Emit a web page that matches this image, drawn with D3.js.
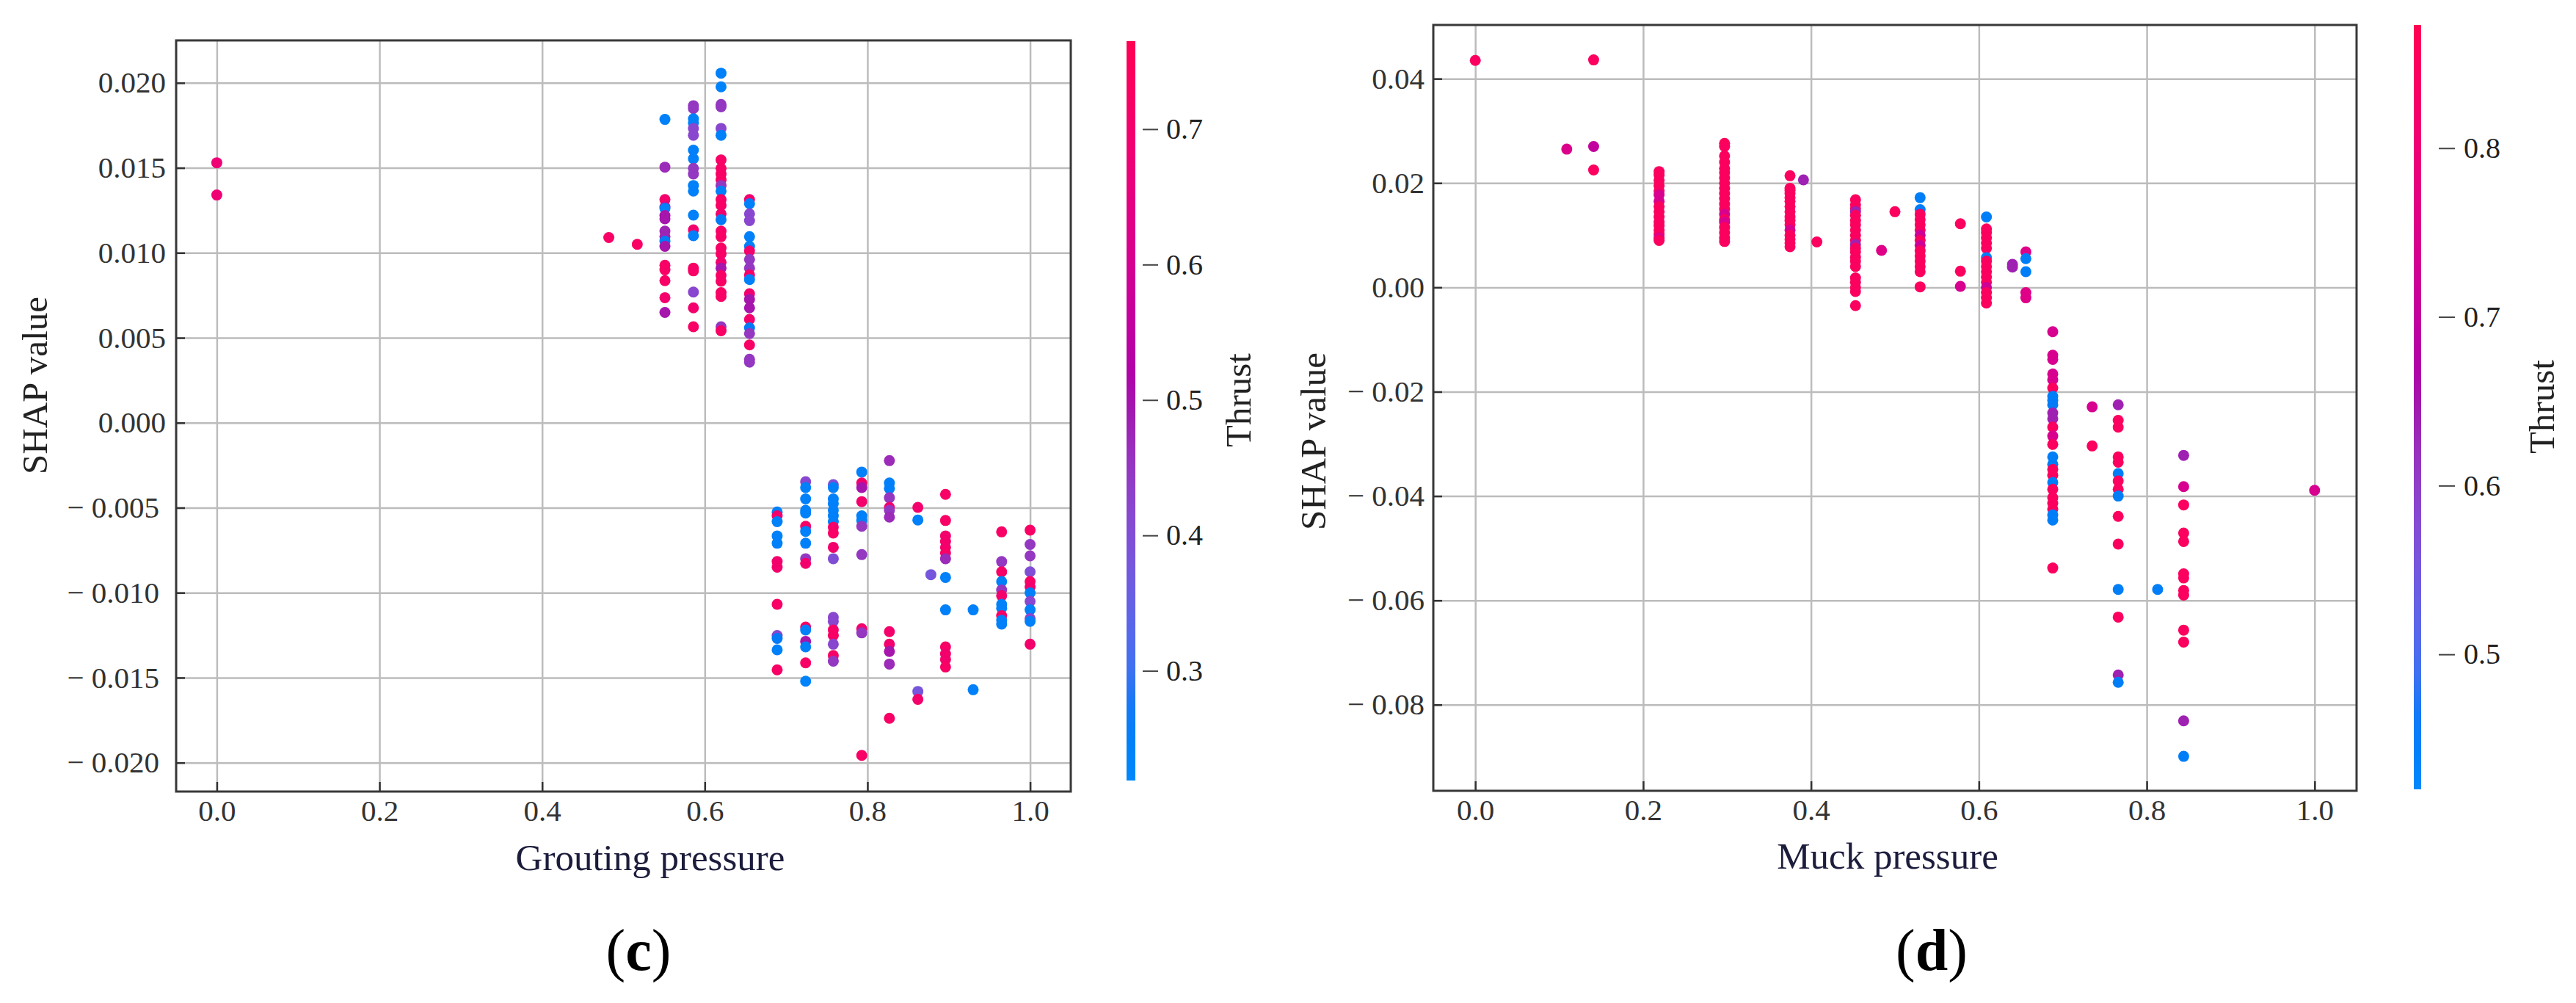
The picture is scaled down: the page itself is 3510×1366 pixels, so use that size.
<!DOCTYPE html>
<html>
<head>
<meta charset="utf-8">
<script src="https://cdn.jsdelivr.net/npm/d3@7"></script>
<style>
  body { margin: 0; background: #fff; }
  text { font-family: "Liberation Serif", "Times New Roman", serif; }
</style>
</head>
<body>
<div class="svg-container"></div>
<script>
var width = 3510;
var height = 1366;

// ---- data: [feature value, SHAP value, thrust] ----
var groutingPoints = [
  [0.000, 0.0153, 0.68], [0.000, 0.0134, 0.68],
  [0.482, 0.0109, 0.72], [0.517, 0.0105, 0.72],
  [0.551, 0.01785, 0.25], [0.551, 0.01504, 0.47], [0.551, 0.01313, 0.70], [0.551, 0.01270, 0.62],
  [0.551, 0.01262, 0.25], [0.551, 0.01219, 0.50], [0.551, 0.01200, 0.50], [0.551, 0.01128, 0.48],
  [0.551, 0.01095, 0.48], [0.551, 0.01068, 0.27], [0.551, 0.01038, 0.50], [0.551, 0.00927, 0.72],
  [0.551, 0.00900, 0.72], [0.551, 0.00836, 0.72], [0.551, 0.00736, 0.70], [0.551, 0.00649, 0.50],
  [0.586, 0.01866, 0.45], [0.586, 0.01849, 0.45], [0.586, 0.01789, 0.25], [0.586, 0.01765, 0.25],
  [0.586, 0.01732, 0.42], [0.586, 0.01692, 0.42], [0.586, 0.01604, 0.25], [0.586, 0.01554, 0.25],
  [0.586, 0.01497, 0.45], [0.586, 0.01464, 0.45], [0.586, 0.01396, 0.25], [0.586, 0.01363, 0.25],
  [0.586, 0.01222, 0.25], [0.586, 0.01135, 0.70], [0.586, 0.01101, 0.25], [0.586, 0.00910, 0.72],
  [0.586, 0.00894, 0.72], [0.586, 0.00769, 0.42], [0.586, 0.00676, 0.70], [0.586, 0.00565, 0.72],
  [0.620, 0.02057, 0.25], [0.620, 0.01977, 0.24], [0.620, 0.01873, 0.45], [0.620, 0.01859, 0.45],
  [0.620, 0.01732, 0.42], [0.620, 0.01692, 0.25], [0.620, 0.01547, 0.72], [0.620, 0.01497, 0.72],
  [0.620, 0.01464, 0.72], [0.620, 0.01430, 0.72], [0.620, 0.01396, 0.45], [0.620, 0.01363, 0.25],
  [0.620, 0.01313, 0.72], [0.620, 0.01279, 0.72], [0.620, 0.01229, 0.70], [0.620, 0.01195, 0.27],
  [0.620, 0.01128, 0.72], [0.620, 0.01095, 0.72], [0.620, 0.01028, 0.72], [0.620, 0.00994, 0.72],
  [0.620, 0.00944, 0.70], [0.620, 0.00910, 0.50], [0.620, 0.00867, 0.72], [0.620, 0.00833, 0.72],
  [0.620, 0.00766, 0.72], [0.620, 0.00743, 0.72], [0.620, 0.00565, 0.45], [0.620, 0.00541, 0.72],
  [0.655, 0.01313, 0.70], [0.655, 0.01289, 0.25], [0.655, 0.01229, 0.42], [0.655, 0.01189, 0.42],
  [0.655, 0.01095, 0.25], [0.655, 0.01038, 0.25], [0.655, 0.01011, 0.70], [0.655, 0.00961, 0.45],
  [0.655, 0.00910, 0.45], [0.655, 0.00870, 0.72], [0.655, 0.00843, 0.25], [0.655, 0.00759, 0.70],
  [0.655, 0.00726, 0.50], [0.655, 0.00676, 0.50], [0.655, 0.00608, 0.70], [0.655, 0.00558, 0.27],
  [0.655, 0.00525, 0.45], [0.655, 0.00458, 0.72], [0.655, 0.00374, 0.45], [0.655, 0.00357, 0.45],
  [0.689, -0.00525, 0.25], [0.689, -0.00548, 0.70], [0.689, -0.00582, 0.25], [0.689, -0.00666, 0.25],
  [0.689, -0.00709, 0.25], [0.689, -0.00817, 0.70], [0.689, -0.00850, 0.70], [0.689, -0.01068, 0.72],
  [0.689, -0.01252, 0.42], [0.689, -0.01269, 0.27], [0.689, -0.01336, 0.25], [0.689, -0.01454, 0.72],
  [0.724, -0.00347, 0.42], [0.724, -0.00381, 0.25], [0.724, -0.00448, 0.25], [0.724, -0.00515, 0.25],
  [0.724, -0.00531, 0.25], [0.724, -0.00609, 0.72], [0.724, -0.00639, 0.25], [0.724, -0.00709, 0.25],
  [0.724, -0.00800, 0.45], [0.724, -0.00827, 0.70], [0.724, -0.01202, 0.72], [0.724, -0.01219, 0.25],
  [0.724, -0.01286, 0.50], [0.724, -0.01319, 0.25], [0.724, -0.01413, 0.72], [0.724, -0.01521, 0.24],
  [0.758, -0.00364, 0.40], [0.758, -0.00381, 0.25], [0.758, -0.00448, 0.25], [0.758, -0.00475, 0.25],
  [0.758, -0.00515, 0.25], [0.758, -0.00548, 0.25], [0.758, -0.00582, 0.25], [0.758, -0.00615, 0.70],
  [0.758, -0.00649, 0.72], [0.758, -0.00733, 0.70], [0.758, -0.00800, 0.40], [0.758, -0.01145, 0.42],
  [0.758, -0.01169, 0.42], [0.758, -0.01219, 0.72], [0.758, -0.01252, 0.72], [0.758, -0.01303, 0.42],
  [0.758, -0.01370, 0.72], [0.758, -0.01403, 0.45],
  [0.793, -0.00290, 0.25], [0.793, -0.00354, 0.70], [0.793, -0.00381, 0.50], [0.793, -0.00464, 0.70],
  [0.793, -0.00548, 0.25], [0.793, -0.00575, 0.25], [0.793, -0.00609, 0.45], [0.793, -0.00776, 0.45],
  [0.793, -0.01212, 0.70], [0.793, -0.01236, 0.45], [0.793, -0.01957, 0.72],
  [0.827, -0.00223, 0.47], [0.827, -0.00354, 0.25], [0.827, -0.00387, 0.25], [0.827, -0.00441, 0.45],
  [0.827, -0.00498, 0.70], [0.827, -0.00515, 0.45], [0.827, -0.00555, 0.47], [0.827, -0.01229, 0.70],
  [0.827, -0.01303, 0.70], [0.827, -0.01346, 0.50], [0.827, -0.01420, 0.47], [0.827, -0.01739, 0.72],
  [0.862, -0.00498, 0.70], [0.862, -0.00572, 0.25], [0.862, -0.01581, 0.38], [0.862, -0.01628, 0.70],
  [0.878, -0.00894, 0.38],
  [0.896, -0.00421, 0.72], [0.896, -0.00575, 0.72], [0.896, -0.00666, 0.70], [0.896, -0.00699, 0.70],
  [0.896, -0.00733, 0.70], [0.896, -0.00766, 0.72], [0.896, -0.00800, 0.47], [0.896, -0.00910, 0.25],
  [0.896, -0.01101, 0.25], [0.896, -0.01319, 0.72], [0.896, -0.01360, 0.70], [0.896, -0.01393, 0.70],
  [0.896, -0.01437, 0.72],
  [0.930, -0.01101, 0.25], [0.930, -0.01571, 0.25],
  [0.965, -0.00642, 0.72], [0.965, -0.00817, 0.45], [0.965, -0.00877, 0.72], [0.965, -0.00934, 0.25],
  [0.965, -0.00984, 0.45], [0.965, -0.01018, 0.70], [0.965, -0.01068, 0.25], [0.965, -0.01091, 0.25],
  [0.965, -0.01135, 0.72], [0.965, -0.01162, 0.25], [0.965, -0.01185, 0.25],
  [1.000, -0.00632, 0.72], [1.000, -0.00716, 0.45], [1.000, -0.00783, 0.45], [1.000, -0.00877, 0.40],
  [1.000, -0.00934, 0.72], [1.000, -0.00967, 0.70], [1.000, -0.01001, 0.25], [1.000, -0.01051, 0.42],
  [1.000, -0.01101, 0.25], [1.000, -0.01152, 0.42], [1.000, -0.01169, 0.25], [1.000, -0.01303, 0.70]
];

var muckPoints = [
  [0.000, 0.0435, 0.85], [0.109, 0.0265, 0.75], [0.141, 0.0436, 0.85], [0.141, 0.0270, 0.70], [0.141, 0.0225, 0.85],
  [0.219, 0.0222, 0.85], [0.219, 0.0215, 0.85], [0.219, 0.0205, 0.85], [0.219, 0.0195, 0.85],
  [0.219, 0.0185, 0.85], [0.219, 0.0177, 0.74], [0.219, 0.0165, 0.74], [0.219, 0.0155, 0.85],
  [0.219, 0.0145, 0.85], [0.219, 0.0135, 0.85], [0.219, 0.0125, 0.85], [0.219, 0.0118, 0.85],
  [0.219, 0.0110, 0.85], [0.219, 0.0102, 0.85], [0.219, 0.0095, 0.76], [0.219, 0.0090, 0.85],
  [0.297, 0.0276, 0.86], [0.297, 0.0270, 0.85], [0.297, 0.0252, 0.85], [0.297, 0.0240, 0.85],
  [0.297, 0.0228, 0.85], [0.297, 0.0220, 0.85], [0.297, 0.0210, 0.85], [0.297, 0.0200, 0.85],
  [0.297, 0.0190, 0.85], [0.297, 0.0180, 0.85], [0.297, 0.0170, 0.85], [0.297, 0.0160, 0.85],
  [0.297, 0.0150, 0.85], [0.297, 0.0140, 0.74], [0.297, 0.0130, 0.85], [0.297, 0.0125, 0.74],
  [0.297, 0.0115, 0.85], [0.297, 0.0105, 0.85], [0.297, 0.0095, 0.85], [0.297, 0.0088, 0.85],
  [0.375, 0.0214, 0.85], [0.375, 0.0190, 0.85], [0.375, 0.0186, 0.85], [0.375, 0.0180, 0.85],
  [0.375, 0.0172, 0.85], [0.375, 0.0165, 0.85], [0.375, 0.0155, 0.85], [0.375, 0.0145, 0.85],
  [0.375, 0.0135, 0.85], [0.375, 0.0128, 0.85], [0.375, 0.0120, 0.85], [0.375, 0.0110, 0.74],
  [0.375, 0.0100, 0.85], [0.375, 0.0092, 0.85], [0.375, 0.0085, 0.85], [0.375, 0.0078, 0.85],
  [0.391, 0.0206, 0.64], [0.407, 0.0087, 0.85],
  [0.453, 0.0168, 0.85], [0.453, 0.0158, 0.85], [0.453, 0.0150, 0.85], [0.453, 0.0145, 0.64],
  [0.453, 0.0138, 0.85], [0.453, 0.0128, 0.85], [0.453, 0.0120, 0.85], [0.453, 0.0110, 0.85],
  [0.453, 0.0100, 0.85], [0.453, 0.0090, 0.85], [0.453, 0.0082, 0.64], [0.453, 0.0075, 0.85],
  [0.453, 0.0068, 0.85], [0.453, 0.0058, 0.85], [0.453, 0.0050, 0.85], [0.453, 0.0040, 0.85],
  [0.453, 0.0018, 0.85], [0.453, 0.0010, 0.85], [0.453, 0.0000, 0.85], [0.453, -0.0008, 0.85],
  [0.453, -0.0035, 0.85],
  [0.484, 0.0071, 0.76], [0.500, 0.0145, 0.85],
  [0.530, 0.0172, 0.45], [0.530, 0.0149, 0.45], [0.530, 0.0140, 0.85], [0.530, 0.0130, 0.85],
  [0.530, 0.0120, 0.85], [0.530, 0.0110, 0.85], [0.530, 0.0100, 0.72], [0.530, 0.0090, 0.85],
  [0.530, 0.0080, 0.72], [0.530, 0.0070, 0.85], [0.530, 0.0060, 0.85], [0.530, 0.0050, 0.85],
  [0.530, 0.0040, 0.85], [0.530, 0.0030, 0.85], [0.530, 0.0001, 0.85],
  [0.578, 0.0122, 0.85], [0.578, 0.0031, 0.85], [0.578, 0.0002, 0.74],
  [0.609, 0.0135, 0.45], [0.609, 0.0112, 0.85], [0.609, 0.0105, 0.85], [0.609, 0.0095, 0.85],
  [0.609, 0.0085, 0.85], [0.609, 0.0075, 0.85], [0.609, 0.0057, 0.45], [0.609, 0.0050, 0.85],
  [0.609, 0.0040, 0.85], [0.609, 0.0030, 0.85], [0.609, 0.0020, 0.85], [0.609, 0.0010, 0.85],
  [0.609, 0.0000, 0.72], [0.609, -0.0010, 0.85], [0.609, -0.0020, 0.85], [0.609, -0.0030, 0.85],
  [0.640, 0.0044, 0.64], [0.640, 0.0039, 0.64],
  [0.656, 0.0068, 0.76], [0.656, 0.0055, 0.45], [0.656, 0.0030, 0.45], [0.656, -0.0010, 0.76], [0.656, -0.0020, 0.76],
  [0.688, -0.0085, 0.74], [0.688, -0.0130, 0.74], [0.688, -0.0138, 0.74], [0.688, -0.0166, 0.74],
  [0.688, -0.0177, 0.74], [0.688, -0.0193, 0.85], [0.688, -0.0209, 0.45], [0.688, -0.0217, 0.45],
  [0.688, -0.0225, 0.46], [0.688, -0.0241, 0.64], [0.688, -0.0252, 0.64], [0.688, -0.0268, 0.85],
  [0.688, -0.0285, 0.74], [0.688, -0.0301, 0.85], [0.688, -0.0325, 0.45], [0.688, -0.0339, 0.45],
  [0.688, -0.0349, 0.85], [0.688, -0.0360, 0.85], [0.688, -0.0374, 0.45], [0.688, -0.0387, 0.85],
  [0.688, -0.0403, 0.85], [0.688, -0.0414, 0.85], [0.688, -0.0425, 0.85], [0.688, -0.0436, 0.45],
  [0.688, -0.0446, 0.45], [0.688, -0.0538, 0.85],
  [0.735, -0.0229, 0.74], [0.735, -0.0304, 0.85],
  [0.766, -0.0225, 0.64], [0.766, -0.0255, 0.85], [0.766, -0.0268, 0.85], [0.766, -0.0325, 0.85],
  [0.766, -0.0335, 0.85], [0.766, -0.0357, 0.45], [0.766, -0.0371, 0.85], [0.766, -0.0387, 0.85],
  [0.766, -0.0400, 0.45], [0.766, -0.0439, 0.85], [0.766, -0.0492, 0.85], [0.766, -0.0579, 0.45],
  [0.766, -0.0632, 0.85], [0.766, -0.0743, 0.64], [0.766, -0.0757, 0.45],
  [0.813, -0.0579, 0.45],
  [0.844, -0.0322, 0.64], [0.844, -0.0382, 0.74], [0.844, -0.0417, 0.85], [0.844, -0.0471, 0.85],
  [0.844, -0.0487, 0.85], [0.844, -0.0549, 0.85], [0.844, -0.0557, 0.85], [0.844, -0.0581, 0.85],
  [0.844, -0.0590, 0.85], [0.844, -0.0657, 0.85], [0.844, -0.0680, 0.85], [0.844, -0.0831, 0.64],
  [0.844, -0.0899, 0.45],
  [1.000, -0.0389, 0.74]
];

// ---- ticks ----
var xTicks = [0, 0.2, 0.4, 0.6, 0.8, 1.0];
var groutingYTicks = [-0.020, -0.015, -0.010, -0.005, 0.000, 0.005, 0.010, 0.015, 0.020];
var muckYTicks = [-0.08, -0.06, -0.04, -0.02, 0.00, 0.02, 0.04];
var groutingThrustTicks = [0.3, 0.4, 0.5, 0.6, 0.7];
var muckThrustTicks = [0.5, 0.6, 0.7, 0.8];

var svg = d3.select(".svg-container")
    .append("svg")
    .attr("width", width)
    .attr("height", height);

var defs = svg.append("defs");

// shap "red_blue" colormap: lch, lightness dips in the middle
function redBlue(t) {
    t = Math.max(0, Math.min(1, t));
    var l = 40 + 14 * Math.abs(2 * t - 1);
    var c = 70 + 20 * t;
    var h = 266.93 + 113.39 * t;
    return d3.hcl(h, c, l) + "";
}

function signedFormat(decimals) {
    var f = d3.format("." + decimals + "f");
    return function(d) {
        return (d < -1e-9 ? "\u2212 " : "") + f(Math.abs(d));
    };
}

function drawPanel(p) {
    var x = d3.scaleLinear().domain(p.xDomain).range([p.left, p.right]);
    var y = d3.scaleLinear().domain(p.yDomain).range([p.bottom, p.top]);
    var w = p.right - p.left;
    var h = p.bottom - p.top;

    // grid
    svg.append("g")
        .attr("transform", "translate(0," + p.bottom + ")")
        .call(d3.axisBottom(x).tickValues(xTicks).tickSize(-h).tickFormat(""))
        .call(function(g) { g.select(".domain").remove(); })
        .selectAll("line").attr("stroke", "#bcbcbc").attr("stroke-width", 2.5);

    svg.append("g")
        .attr("transform", "translate(" + p.left + ",0)")
        .call(d3.axisLeft(y).tickValues(p.yTicks).tickSize(-w).tickFormat(""))
        .call(function(g) { g.select(".domain").remove(); })
        .selectAll("line").attr("stroke", "#bcbcbc").attr("stroke-width", 2.5);

    // points
    var cNorm = d3.scaleLinear().domain(p.cDomain).range([0, 1]);
    svg.append("g")
        .selectAll("circle")
        .data(p.data)
        .enter()
        .append("circle")
        .attr("cx", function(d) { return x(d[0]); })
        .attr("cy", function(d) { return y(d[1]); })
        .attr("r", 7.5)
        .attr("fill", function(d) { return redBlue(cNorm(d[2])); });

    // frame
    svg.append("rect")
        .attr("x", p.left).attr("y", p.top)
        .attr("width", w).attr("height", h)
        .attr("fill", "none")
        .attr("stroke", "#383838")
        .attr("stroke-width", 3);

    // axes (ticks pointing inward)
    var gx = svg.append("g")
        .attr("transform", "translate(0," + p.bottom + ")")
        .call(d3.axisBottom(x).tickValues(xTicks).tickSize(-13).tickPadding(11).tickFormat(d3.format(".1f")));
    gx.select(".domain").remove();
    gx.selectAll("line").attr("stroke", "#333").attr("stroke-width", 2.5);
    gx.selectAll("text").attr("font-size", 41).attr("fill", "#333")
        .attr("font-family", "Liberation Serif, Times New Roman, serif");

    var gy = svg.append("g")
        .attr("transform", "translate(" + p.left + ",0)")
        .call(d3.axisLeft(y).tickValues(p.yTicks).tickSize(-12).tickPadding(p.yPad).tickFormat(signedFormat(p.decimals)));
    gy.select(".domain").remove();
    gy.selectAll("line").attr("stroke", "#333").attr("stroke-width", 2.5);
    gy.selectAll("text").attr("font-size", 41).attr("fill", "#333")
        .attr("font-family", "Liberation Serif, Times New Roman, serif")
        .attr("x", function(d) { return d < -1e-9 ? -(p.yPad + p.negShift) : -p.yPad; });

    // colorbar
    var gradId = "grad-" + p.id;
    var grad = defs.append("linearGradient")
        .attr("id", gradId)
        .attr("x1", 0).attr("y1", 1).attr("x2", 0).attr("y2", 0);
    grad.selectAll("stop")
        .data(d3.range(0, 1.0001, 0.05))
        .enter()
        .append("stop")
        .attr("offset", function(d) { return d; })
        .attr("stop-color", function(d) { return redBlue(d); });

    svg.append("rect")
        .attr("x", p.cbX).attr("y", p.cbTop)
        .attr("width", p.cbW).attr("height", p.cbBottom - p.cbTop)
        .attr("fill", "url(#" + gradId + ")");

    var cScale = d3.scaleLinear().domain(p.cDomain).range([p.cbBottom, p.cbTop]);
    var gc = svg.append("g")
        .attr("transform", "translate(" + p.cbTickX + ",0)")
        .call(d3.axisRight(cScale).tickValues(p.cTicks).tickSize(p.cbTickLen).tickPadding(p.cbTickPad).tickFormat(d3.format(".1f")));
    gc.select(".domain").remove();
    gc.selectAll("line").attr("stroke", "#444").attr("stroke-width", 2);
    gc.selectAll("text").attr("font-size", 40).attr("fill", "#222")
        .attr("font-family", "Liberation Serif, Times New Roman, serif");

    // labels
    svg.append("text")
        .attr("transform", "translate(" + p.yLabelX + "," + p.yLabelY + ") rotate(-90)")
        .attr("text-anchor", "middle")
        .attr("dy", "0.35em")
        .attr("font-size", 49)
        .attr("fill", "#222")
        .text("SHAP value");

    svg.append("text")
        .attr("x", p.xLabelX)
        .attr("y", p.xLabelY)
        .attr("text-anchor", "middle")
        .attr("font-size", 51)
        .attr("fill", "#1c1c3c")
        .text(p.xLabel);

    svg.append("text")
        .attr("transform", "translate(" + p.cLabelX + "," + p.cLabelY + ") rotate(-90)")
        .attr("text-anchor", "middle")
        .attr("dy", "0.35em")
        .attr("font-size", 49)
        .attr("fill", "#222")
        .text("Thrust");

    var tag = svg.append("text")
        .attr("x", p.tagX)
        .attr("y", 1321)
        .attr("text-anchor", "middle")
        .attr("font-size", 80)
        .attr("fill", "#000");
    tag.append("tspan").text("(");
    tag.append("tspan").attr("font-weight", "bold").text(p.tag);
    tag.append("tspan").text(")");
}

drawPanel({
    id: "c",
    data: groutingPoints,
    left: 240, right: 1459, top: 55, bottom: 1078,
    xDomain: [-0.05, 1.05], yDomain: [-0.0217, 0.0225],
    yTicks: groutingYTicks, decimals: 3, yPad: 14, negShift: 9,
    cDomain: [0.219, 0.765], cTicks: groutingThrustTicks,
    cbX: 1535, cbW: 12, cbTop: 56, cbBottom: 1063,
    cbTickX: 1557, cbTickLen: 21, cbTickPad: 11,
    yLabelX: 47, yLabelY: 525,
    xLabel: "Grouting pressure", xLabelX: 886, xLabelY: 1185,
    cLabelX: 1687, cLabelY: 545,
    tag: "c", tagX: 870
});

drawPanel({
    id: "d",
    data: muckPoints,
    left: 1953, right: 3211, top: 34, bottom: 1077,
    xDomain: [-0.05, 1.05], yDomain: [-0.0965, 0.0503],
    yTicks: muckYTicks, decimals: 2, yPad: 12, negShift: 0,
    cDomain: [0.42, 0.873], cTicks: muckThrustTicks,
    cbX: 3289, cbW: 10, cbTop: 34, cbBottom: 1075,
    cbTickX: 3323, cbTickLen: 22, cbTickPad: 12,
    yLabelX: 1789, yLabelY: 601,
    xLabel: "Muck pressure", xLabelX: 2572, xLabelY: 1183,
    cLabelX: 3463, cLabelY: 554,
    tag: "d", tagX: 2632
});
</script>
</body>
</html>
